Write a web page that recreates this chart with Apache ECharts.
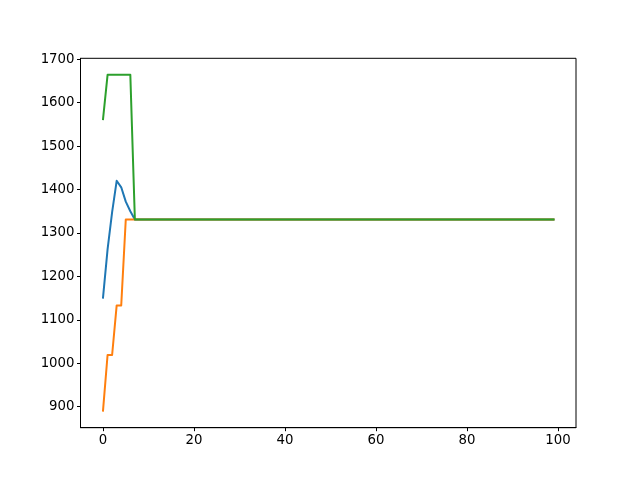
<!DOCTYPE html>
<html><head><meta charset="utf-8">
<script src="https://cdn.jsdelivr.net/npm/echarts@6/dist/echarts.min.js"></script>
<style>html,body{margin:0;padding:0;background:#fff}#c{width:640px;height:480px}</style>
</head><body><div id="c"></div>
<script>
const xTicks = [0, 20, 40, 60, 80, 100];
const yTicks = [900, 1000, 1100, 1200, 1300, 1400, 1500, 1600, 1700];
const blueVals = [1151, 1262, 1348, 1420, 1405, 1372, 1350, 1331, 1331, 1331,
  1331, 1331, 1331, 1331, 1331, 1331, 1331, 1331, 1331, 1331,
  1331, 1331, 1331, 1331, 1331, 1331, 1331, 1331, 1331, 1331,
  1331, 1331, 1331, 1331, 1331, 1331, 1331, 1331, 1331, 1331,
  1331, 1331, 1331, 1331, 1331, 1331, 1331, 1331, 1331, 1331,
  1331, 1331, 1331, 1331, 1331, 1331, 1331, 1331, 1331, 1331,
  1331, 1331, 1331, 1331, 1331, 1331, 1331, 1331, 1331, 1331,
  1331, 1331, 1331, 1331, 1331, 1331, 1331, 1331, 1331, 1331,
  1331, 1331, 1331, 1331, 1331, 1331, 1331, 1331, 1331, 1331,
  1331, 1331, 1331, 1331, 1331, 1331, 1331, 1331, 1331, 1331];
const orangeVals = [891, 1019, 1019, 1133, 1133, 1331, 1331, 1331, 1331, 1331,
  1331, 1331, 1331, 1331, 1331, 1331, 1331, 1331, 1331, 1331,
  1331, 1331, 1331, 1331, 1331, 1331, 1331, 1331, 1331, 1331,
  1331, 1331, 1331, 1331, 1331, 1331, 1331, 1331, 1331, 1331,
  1331, 1331, 1331, 1331, 1331, 1331, 1331, 1331, 1331, 1331,
  1331, 1331, 1331, 1331, 1331, 1331, 1331, 1331, 1331, 1331,
  1331, 1331, 1331, 1331, 1331, 1331, 1331, 1331, 1331, 1331,
  1331, 1331, 1331, 1331, 1331, 1331, 1331, 1331, 1331, 1331,
  1331, 1331, 1331, 1331, 1331, 1331, 1331, 1331, 1331, 1331,
  1331, 1331, 1331, 1331, 1331, 1331, 1331, 1331, 1331, 1331];
const greenVals = [1562, 1664, 1664, 1664, 1664, 1664, 1664, 1331, 1331, 1331,
  1331, 1331, 1331, 1331, 1331, 1331, 1331, 1331, 1331, 1331,
  1331, 1331, 1331, 1331, 1331, 1331, 1331, 1331, 1331, 1331,
  1331, 1331, 1331, 1331, 1331, 1331, 1331, 1331, 1331, 1331,
  1331, 1331, 1331, 1331, 1331, 1331, 1331, 1331, 1331, 1331,
  1331, 1331, 1331, 1331, 1331, 1331, 1331, 1331, 1331, 1331,
  1331, 1331, 1331, 1331, 1331, 1331, 1331, 1331, 1331, 1331,
  1331, 1331, 1331, 1331, 1331, 1331, 1331, 1331, 1331, 1331,
  1331, 1331, 1331, 1331, 1331, 1331, 1331, 1331, 1331, 1331,
  1331, 1331, 1331, 1331, 1331, 1331, 1331, 1331, 1331, 1331];

const toPairs = arr => arr.map((v, i) => [i, v]);
const font = 'DejaVu Sans';
const chart = echarts.init(document.getElementById('c'), null, {renderer: 'canvas'});
const mk = (vals, color) => ({
  type: 'line', data: toPairs(vals), showSymbol: false, symbol: 'none',
  lineStyle: {color: color, width: 2, cap: 'square', join: 'round'}, itemStyle: {color: color},
  animation: false, silent: true
});
const fmt = v => String(Math.round(v));
chart.setOption({
  animation: false,
  backgroundColor: '#fff',
  grid: {left: 80.5, right: 64, top: 58.3, bottom: 52.3, show: true, borderColor: '#000', borderWidth: 1, backgroundColor: 'transparent'},
  xAxis: {
    type: 'value', min: -4.95, max: 103.95,
    splitLine: {show: false},
    axisLine: {show: true, onZero: false, lineStyle: {color: '#000', width: 1}},
    axisTick: {show: true, length: 3.5, lineStyle: {color: '#000'}, customValues: xTicks},
    axisLabel: {color: '#000', fontFamily: font, fontSize: 13.3, margin: 6, customValues: xTicks, formatter: fmt}
  },
  yAxis: {
    type: 'value', min: 851.6, max: 1702,
    splitLine: {show: false},
    axisLine: {show: true, onZero: false, lineStyle: {color: '#000', width: 1}},
    axisTick: {show: true, length: 3.5, lineStyle: {color: '#000'}, customValues: yTicks},
    axisLabel: {color: '#000', fontFamily: font, fontSize: 13.3, margin: 6, customValues: yTicks, formatter: fmt}
  },
  series: [mk(blueVals, '#1f77b4'), mk(orangeVals, '#ff7f0e'), mk(greenVals, '#2ca02c')]
});
</script></body></html>
